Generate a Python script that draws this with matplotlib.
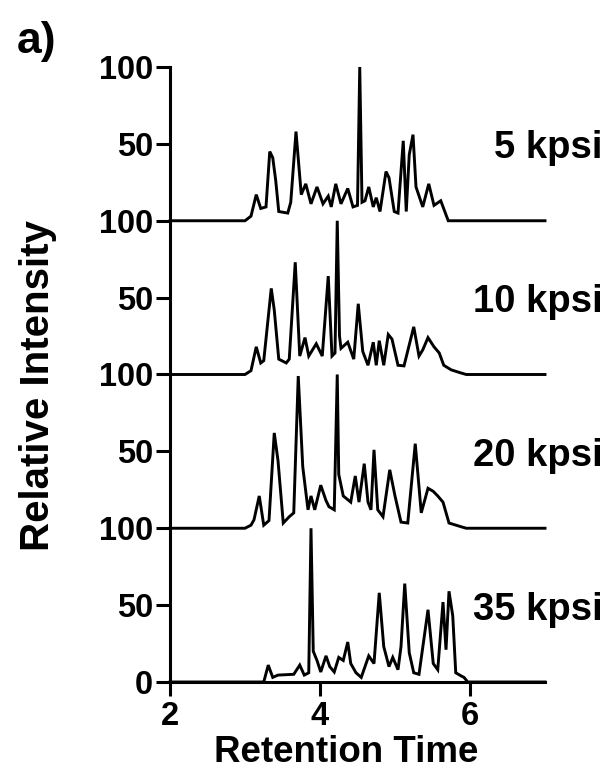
import matplotlib
matplotlib.use("Agg")
import matplotlib.pyplot as plt

plt.rcParams['font.family'] = ['Liberation Sans', 'DejaVu Sans']
plt.rcParams['font.weight'] = 'bold'

labels = ["35 kpsi", "20 kpsi", "10 kpsi", "5 kpsi"]

x_35 = [2.0, 3.25, 3.31, 3.37, 3.44, 3.65, 3.73, 3.79, 3.85, 3.88, 3.91, 3.96, 4.01, 4.08, 4.13, 4.19,
        4.25, 4.31, 4.37, 4.41, 4.48, 4.55, 4.65, 4.72, 4.79, 4.85, 4.92, 4.97, 5.04, 5.08,
        5.13, 5.19, 5.25, 5.32, 5.44, 5.51, 5.57, 5.64, 5.68, 5.72, 5.77, 5.81, 5.88, 5.92,
        5.97, 7.0]
y_35 = [0, 0, 11, 3, 4.5, 5, 11, 4.5, 6, 100, 20, 14, 6.5, 17, 10, 6.5,
        16, 14, 26, 12, 6, 3, 17, 12, 58, 23, 10, 16, 8, 23,
        64, 19, 6, 5, 47, 12, 8, 52, 21, 59, 43, 6, 4, 3,
        0, 0]

x_20 = [2.0, 3.0, 3.08, 3.12, 3.19, 3.25, 3.32, 3.39, 3.44, 3.51, 3.59, 3.65, 3.71, 3.77,
        3.84, 3.88, 3.93, 4.01, 4.08, 4.12, 4.19, 4.23, 4.25, 4.31, 4.36, 4.41, 4.47,
        4.52, 4.59, 4.64, 4.68, 4.72, 4.77, 4.84, 4.93, 5.0, 5.08, 5.17, 5.27, 5.35,
        5.44, 5.51, 5.57, 5.64, 5.72, 5.88, 5.95, 7.0]
y_20 = [0, 0, 2, 5.5, 21, 2, 5, 62, 44, 3.4, 7.5, 10, 99, 40,
        12, 21, 12, 28, 18, 14, 12, 100, 35, 21, 19, 17, 34,
        17, 42, 17, 12, 51, 12, 7.5, 38, 21, 4, 3.4, 55, 10,
        26, 24, 21, 17, 3.4, 1, 0, 0]

x_10 = [2.0, 3.0, 3.08, 3.15, 3.21, 3.25, 3.35, 3.39, 3.45, 3.55, 3.59, 3.67, 3.73, 3.80,
        3.85, 3.95, 4.03, 4.11, 4.16, 4.20, 4.23, 4.26, 4.28, 4.37, 4.45, 4.51, 4.57, 4.64,
        4.71, 4.75, 4.79, 4.85, 4.91, 4.96, 5.04, 5.12, 5.25, 5.32, 5.37, 5.44, 5.52,
        5.59, 5.65, 5.75, 5.88, 5.95, 7.0]
y_10 = [0, 0, 2.5, 18, 7.5, 9, 56, 42, 10, 7.5, 10, 73, 12, 24,
        12, 20, 12, 64, 12, 14, 100, 25, 17, 21, 10, 46, 15, 6,
        21, 6, 22, 6, 26, 23, 6, 5.6, 31, 12, 16, 24, 18,
        14, 6, 3, 1, 0, 0]

x_5 = [2.0, 3.0, 3.08, 3.15, 3.21, 3.28, 3.33, 3.37, 3.41, 3.45, 3.57, 3.61, 3.68, 3.75,
       3.81, 3.88, 3.96, 4.04, 4.11, 4.15, 4.21, 4.28, 4.37, 4.44, 4.50, 4.53, 4.56,
       4.60, 4.65, 4.71, 4.75, 4.80, 4.88, 4.92, 4.99, 5.04, 5.11, 5.15, 5.19, 5.24,
       5.28, 5.37, 5.45, 5.52, 5.61, 5.71, 7.0]
y_5 = [0, 0, 3, 17, 8, 9, 45, 41, 26, 6, 5, 12, 58, 17,
       24, 11, 22, 11, 16, 9, 24, 11, 21, 9, 10, 100, 12,
       13, 22, 9, 15, 6, 32, 28, 6, 5, 52, 6, 43, 56,
       22, 9, 24, 10, 13, 0, 0]

traces_x = [x_35, x_20, x_10, x_5]
traces_y = [y_35, y_20, y_10, y_5]
offsets = [0, 100, 200, 300]

ytick_vals = [0, 50, 100, 150, 200, 250, 300, 350, 400]
ytick_labels = ["0", "50", "100", "50", "100", "50", "100", "50", "100"]
xtick_vals = [2, 4, 6]

W, H = 610, 771
fig = plt.figure(figsize=(W / 100, H / 100), dpi=100)
ax = fig.add_axes([170 / W, 1 - 682 / H, 375 / W, 615 / H])

for xs, ys, off, lab in zip(traces_x, traces_y, offsets, labels):
    ax.plot(xs, [v + off for v in ys], color='black', lw=2.1, solid_joinstyle='miter', clip_on=False)
    ax.text(7.77, off + 47, lab, ha='right', va='center', fontsize=27.5, fontweight='bold', clip_on=False)

ax.set_xlim(2, 7)
ax.set_ylim(0, 400)
ax.set_yticks(ytick_vals)
ax.set_yticklabels(ytick_labels)
ax.set_xticks(xtick_vals)
ax.spines['top'].set_visible(False)
ax.spines['right'].set_visible(False)
for s in ['left', 'bottom']:
    ax.spines[s].set_linewidth(2.2)
ax.tick_params(axis='both', direction='out', length=10, width=2.2, labelsize=23.5)
ax.tick_params(axis='y', pad=2)
ax.tick_params(axis='x', pad=4)
for t in ax.get_xticklabels() + ax.get_yticklabels():
    t.set_fontweight('bold')

fig.text(38 / W, 1 - 386 / H, "Relative Intensity", rotation=90, ha='center', va='center',
         fontsize=29, fontweight='bold')
fig.text(346 / W, 1.5 / H, "Retention Time", ha='center', va='bottom', fontsize=26.5, fontweight='bold')
fig.text(17 / W, 1 - 53 / H, "a)", ha='left', va='baseline', fontsize=32, fontweight='bold')

fig.savefig("out.png", dpi=100)
